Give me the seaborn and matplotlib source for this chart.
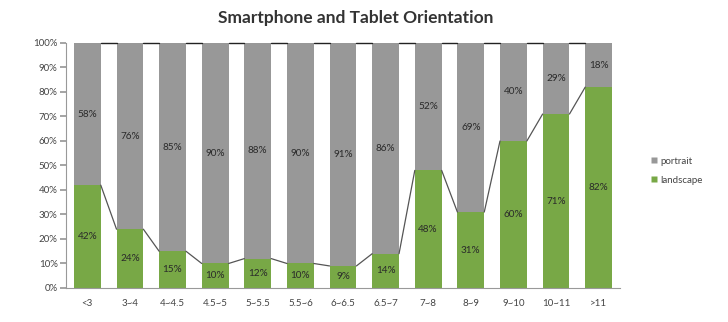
import matplotlib
matplotlib.use("Agg")
import matplotlib.pyplot as plt
import seaborn as sns
import pandas as pd
from matplotlib.lines import Line2D

categories = ["<3", "3~4", "4~4.5", "4.5~5", "5~5.5", "5.5~6", "6~6.5", "6.5~7",
              "7~8", "8~9", "9~10", "10~11", ">11"]
landscape = [42, 24, 15, 10, 12, 10, 9, 14, 48, 31, 60, 71, 82]
portrait = [58, 76, 85, 90, 88, 90, 91, 86, 52, 69, 40, 29, 18]

GREEN = "#78A846"
GRAY = "#989898"

sns.set_theme(style="white")
plt.rcParams["font.family"] = ["Lato", "DejaVu Sans"]

df = pd.DataFrame({"cat": categories, "landscape": landscape, "portrait": portrait})
df["total"] = df["landscape"] + df["portrait"]

fig = plt.figure(figsize=(7.28, 3.22), dpi=100)
ax = fig.add_axes([0.0907, 0.1056, 0.7609, 0.7609])

W = 0.63
sns.barplot(data=df, x="cat", y="total", order=categories, color=GRAY, width=W,
            saturation=1, ax=ax, edgecolor="none")
sns.barplot(data=df, x="cat", y="landscape", order=categories, color=GREEN, width=W,
            saturation=1, ax=ax, edgecolor="none")

n = len(categories)
# series lines
for i in range(n - 1):
    ax.plot([i + W / 2, i + 1 - W / 2], [landscape[i], landscape[i + 1]],
            color="#555555", lw=0.9, zorder=3)
    ax.plot([i + W / 2, i + 1 - W / 2], [df["total"][i], df["total"][i + 1]],
            color="#222222", lw=1.0, zorder=3, clip_on=False)

# labels
for i in range(n):
    ax.text(i, landscape[i] / 2, f"{landscape[i]}%", ha="center", va="center",
            fontsize=7.2, color="#2a2a2a")
    ax.text(i, landscape[i] + portrait[i] / 2, f"{portrait[i]}%", ha="center",
            va="center", fontsize=7.2, color="#2a2a2a")

ax.set_xlim(-0.5, n - 0.5)
ax.set_ylim(0, 100)
ax.set_yticks(range(0, 101, 10))
ax.set_yticklabels([f"{v}%" for v in range(0, 101, 10)], fontsize=7, color="#444444")
ax.set_xticks(range(n))
ax.set_xticklabels(categories, fontsize=7, color="#444444")
ax.set_xticks([i + 0.5 for i in range(-1, n)], minor=True)
ax.tick_params(axis="x", which="major", length=0, pad=8)
ax.tick_params(axis="x", which="minor", length=4, color="#999999", direction="out")
ax.tick_params(axis="y", length=4, color="#999999", direction="out", pad=2, left=True)
ax.set_xlabel("")
ax.set_ylabel("")
for s in ["top", "right"]:
    ax.spines[s].set_visible(False)
for s in ["left", "bottom"]:
    ax.spines[s].set_color("#999999")
    ax.spines[s].set_linewidth(0.8)

fig.text(0.488, 0.945, "Smartphone and Tablet Orientation", ha="center", va="center",
         fontsize=12.5, fontweight="bold", color="#333333")

handles = [Line2D([], [], marker="s", color="none", markerfacecolor=GRAY,
                  markeredgecolor="none", markersize=5, label="portrait"),
           Line2D([], [], marker="s", color="none", markerfacecolor=GREEN,
                  markeredgecolor="none", markersize=5, label="landscape")]
fig.legend(handles=handles, loc="center left", bbox_to_anchor=(0.88, 0.47),
           frameon=False, fontsize=7, handletextpad=0.1, handlelength=1.0,
           labelspacing=1.0, labelcolor="#444444")

fig.savefig("out.png", dpi=100)
